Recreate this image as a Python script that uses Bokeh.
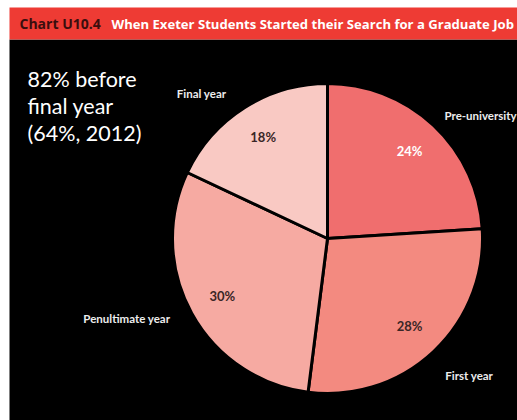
import numpy as np
from bokeh.plotting import figure
from bokeh.models import ColumnDataSource, Range1d
from bokeh.core.properties import value
from bokeh.embed import file_html
from bokeh.resources import INLINE

# ---- data ----
categories = ["Pre-university", "First year", "Penultimate year", "Final year"]
shares = [24, 28, 30, 18]
colors = ["#F06E6E", "#F38A80", "#F6AAA2", "#F9C9C3"]
pct_text_colors = ["#FFFFFF", "#3A2626", "#3A2626", "#3A2626"]
chart_id = "Chart U10.4"
chart_title = "When Exeter Students Started their Search for a Graduate Job"
note_lines = ["82% before", "final year", "(64%, 2012)"]

W, H = 517, 420
p = figure(width=W, height=H, output_backend="svg", toolbar_location=None,
           x_range=Range1d(0, W), y_range=Range1d(0, H), min_border=0)
p.axis.visible = False
p.grid.visible = False
p.outline_line_color = None
p.background_fill_color = "white"
p.border_fill_color = "white"

# frame: red title bar and black panel
p.quad(left=[9], right=[W], bottom=[0], top=[H - 39], fill_color="black", line_color=None)
p.quad(left=[9], right=[W], bottom=[H - 39], top=[H - 7], fill_color="#EE3B34", line_color=None)

p.text(x=[19], y=[H - 23], text=[chart_id], text_color="#3A0E0E",
       text_font=value("Open Sans"), text_font_style="bold", text_font_size="14px",
       text_baseline="middle")
p.text(x=[111], y=[H - 23], text=[chart_title], text_color="#FFFFFF",
       text_font=value("Open Sans"), text_font_style="bold", text_font_size="13.1px",
       text_baseline="middle")

# pie
cx, cy, R = 327, 420 - 238, 155
vals = np.array(shares, dtype=float)
fr = vals / vals.sum()
ends = np.cumsum(fr)
starts = ends - fr
start_angle = np.pi / 2 - 2 * np.pi * starts
end_angle = np.pi / 2 - 2 * np.pi * ends
mid = (start_angle + end_angle) / 2

src = ColumnDataSource(dict(cat=categories, start=start_angle, end=end_angle,
                            color=colors,
                            px=cx + 120 * np.cos(mid), py=cy + 120 * np.sin(mid),
                            pct=[f"{int(v)}%" for v in shares],
                            pc=pct_text_colors))
p.wedge(x=cx, y=cy, radius=R, start_angle="start", end_angle="end",
        direction="clock", fill_color="color", line_color="black", line_width=3,
        source=src)
p.text(x="px", y="py", text="pct", text_color="pc", source=src,
       text_font=value("Lato"), text_font_style="bold", text_font_size="13px",
       text_align="center", text_baseline="middle")

# category labels (layout positions)
lab_angle_deg = [38.4, -44.0, 201.7, 131.0]
lab_r = [198, 197, 216, 192]
lab_align = ["left", "center", "center", "center"]
la = np.radians(lab_angle_deg)
lx = cx + np.array(lab_r) * np.cos(la)
ly = cy + np.array(lab_r) * np.sin(la)
lx[0] = 444
lsrc = ColumnDataSource(dict(x=lx, y=ly, t=categories, a=lab_align))
p.text(x="x", y="y", text="t", text_align="a", source=lsrc,
       text_color="#EDEDED", text_font=value("Lato"), text_font_style="bold",
       text_font_size="11.5px", text_baseline="middle")

# note
p.text(x=[27] * 3, y=[420 - 78, 420 - 105, 420 - 132], text=note_lines,
       text_color="#FFFFFF", text_font=value("Lato"), text_font_size="21.5px",
       text_baseline="middle")

open("out.html", "w").write(file_html(p, INLINE))
